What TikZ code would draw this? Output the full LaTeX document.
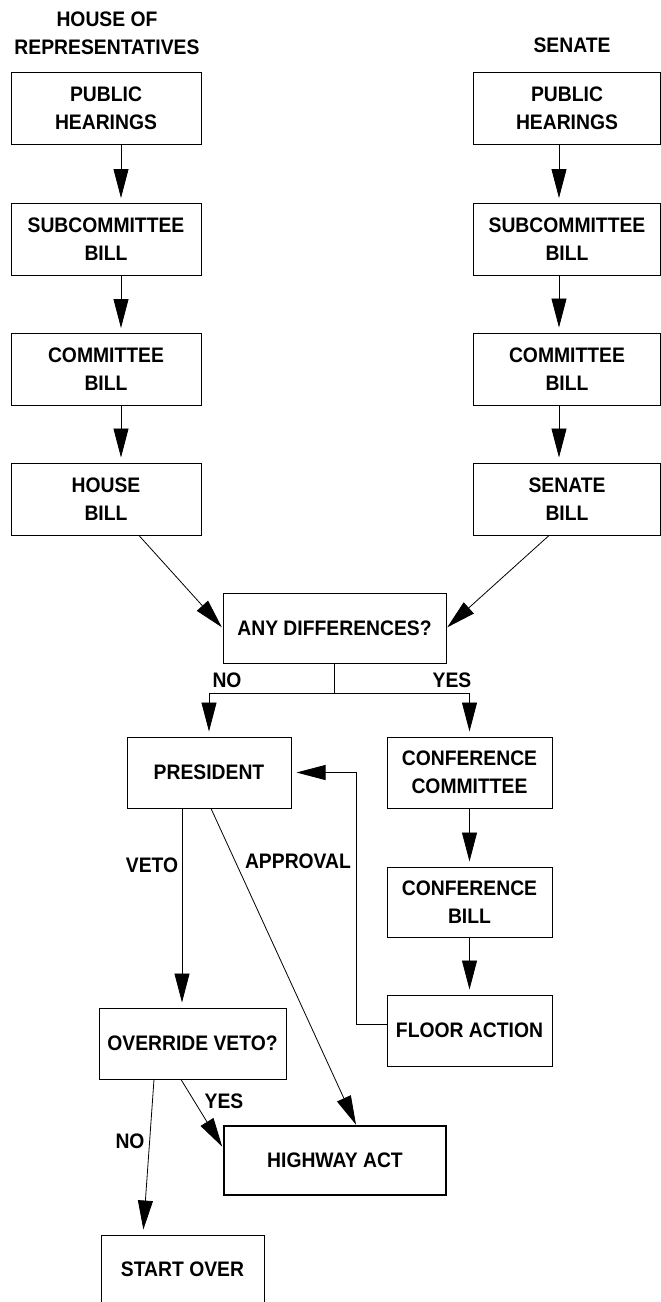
\documentclass[tikz,border=0pt]{standalone}
\usepackage{fontspec}
\setmainfont{Liberation Sans}[FakeStretch=0.92]
\usetikzlibrary{arrows.meta}
\newcommand{\chartfont}{\bfseries\fontsize{21}{28}\selectfont}

\begin{document}
\begin{tikzpicture}[x=1pt, y=-1pt,
    stage/.style={draw, line width=1pt, minimum width=#1, minimum height=72pt, inner sep=0pt, align=center, font=\chartfont},
    stage/.default=190pt,
    flow/.style={-{Triangle[length=29pt, width=15pt]}, line width=0.8pt, shorten >=5pt},
    tag/.style={font=\chartfont, inner sep=0pt, align=center}]
    \useasboundingbox (0,0) rectangle (661,1302);
    % chamber headings
    \node[tag] at (107,33) (househead) {HOUSE OF\\REPRESENTATIVES};
    \node[tag] at (572,45) (senatehead) {SENATE};
    % house column
    \node[stage] at (106,108.5) (hhear) {PUBLIC\\HEARINGS};
    \node[stage] at (106,239.5) (hsub) {SUBCOMMITTEE\\BILL};
    \node[stage] at (106,369.5) (hcom) {COMMITTEE\\BILL};
    \node[stage] at (106,499) (hbill) {HOUSE\\BILL};
    \draw[flow] ([xshift=15pt]hhear.south) -- ([xshift=15pt]hsub.north);
    \draw[flow] ([xshift=15pt]hsub.south) -- ([xshift=15pt]hcom.north);
    \draw[flow] ([xshift=15pt]hcom.south) -- ([xshift=15pt]hbill.north);
    % senate column
    \node[stage=187pt] at (567,108.5) (shear) {PUBLIC\\HEARINGS};
    \node[stage=187pt] at (567,239.5) (ssub) {SUBCOMMITTEE\\BILL};
    \node[stage=187pt] at (567,369) (scom) {COMMITTEE\\BILL};
    \node[stage=187pt] at (567,499) (sbill) {SENATE\\BILL};
    \draw[flow] ([xshift=-8pt]shear.south) -- ([xshift=-8pt]ssub.north);
    \draw[flow] ([xshift=-8pt]ssub.south) -- ([xshift=-8pt]scom.north);
    \draw[flow] ([xshift=-8pt]scom.south) -- ([xshift=-8pt]sbill.north);
    % both bills meet
    \node[stage=223pt, minimum height=70pt] at (334.5,628) (diff) {ANY DIFFERENCES?};
    \draw[flow, shorten >=1pt] ([xshift=33pt]hbill.south) -- (diff.west);
    \draw[flow, shorten >=1pt] ([xshift=-18pt]sbill.south) -- (diff.east);
    \draw (diff.south) -- (334.5,693) coordinate (split);
    \node[tag] at (227,680) (nodiff) {NO};
    \node[tag] at (452,680) (yesdiff) {YES};
    % no differences
    \node[stage=164pt, minimum height=71pt] at (209,772.5) (pres) {PRESIDENT};
    \draw[flow] (split) -| (pres.north);
    % conference
    \node[stage=165pt, minimum height=71pt] at (469.5,772.5) (ccom) {CONFERENCE\\COMMITTEE};
    \node[stage=165pt, minimum height=70pt] at (469.5,902) (cbill) {CONFERENCE\\BILL};
    \node[stage=165pt, minimum height=71pt] at (469.5,1030.5) (floor) {FLOOR ACTION};
    \draw[flow] (split) -| (ccom.north);
    \draw[flow] (ccom.south) -- (cbill.north);
    \draw[flow] (cbill.south) -- (floor.north);
    \draw[flow] ([yshift=6pt]floor.west) -- ++(-30,0) |- (pres.east);
    % president decides
    \node[stage=187pt, minimum height=71pt] at (192.5,1043.5) (over) {OVERRIDE VETO?};
    \node[stage=222pt, minimum height=69pt, line width=2.6pt] at (335,1160.5) (act) {HIGHWAY ACT};
    \node[stage=163pt, minimum height=68pt] at (182.5,1269) (restart) {START OVER};
    \draw[flow] ([xshift=-27pt]pres.south) -- ([xshift=-10.5pt]over.north);
    \node[tag] at (152,865) (veto) {VETO};
    \draw[flow, shorten >=0pt] ([xshift=2pt]pres.south) -- ([xshift=21pt]act.north);
    \node[tag] at (298,861) (approve) {APPROVAL};
    \draw[flow, shorten >=1pt] ([xshift=-11.5pt]over.south) -- ([yshift=13pt]act.west);
    \node[tag] at (224,1101) (yesover) {YES};
    \draw[flow] ([xshift=-38.5pt]over.south) -- ([xshift=-39.5pt]restart.north);
    \node[tag] at (130,1141) (noover) {NO};
\end{tikzpicture}
\end{document}
